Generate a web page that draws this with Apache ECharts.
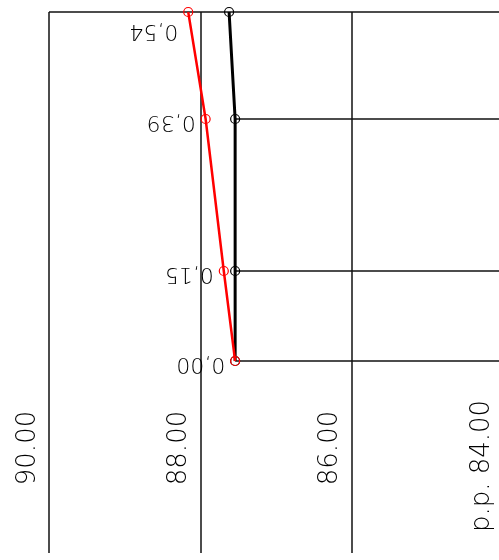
<!DOCTYPE html>
<html>
<head>
<meta charset="utf-8">
<script src="https://cdn.jsdelivr.net/npm/echarts@6/dist/echarts.min.js"></script>
<style>
  html, body { margin: 0; padding: 0; background: #fff; }
  #chart { width: 499px; height: 560px; }
</style>
</head>
<body>
<div id="chart"></div>
<script>
// profile data (rotated drawing): level on x, chainage on y
var rowPos = [0, 0.90, 2.42, 3.49];          // row positions along profile
var blackLevel = [87.54, 87.54, 87.54, 87.62]; // black line levels
var redLevel = [87.54, 87.69, 87.93, 88.16];   // red line levels
var diffLabels = ['0,00', '0,15', '0,39', '0,54'];
var tickLevels = [90, 88, 86, 84];
var tickLabels = ['90.00', '88.00', '86.00', 'p.p. 84.00'];
var labelRow = -0.87;  // where the level labels sit on the chainage scale

var FONT = '"DejaVu Sans", sans-serif';

function pairs(levels) {
    var out = [];
    for (var i = 0; i < levels.length; i++) out.push([levels[i], rowPos[i]]);
    return out;
}

var option = {
    animation: false,
    grid: { left: 49, width: 454, top: 12, bottom: 7, outerBoundsMode: 'none', containLabel: false },
    xAxis: {
        type: 'value',
        min: 84,
        max: 90,
        interval: 2,
        inverse: true,
        axisLine: { show: false },
        axisTick: { show: false },
        axisLabel: { show: false },
        splitLine: { show: true, lineStyle: { color: '#111', width: 1.5 } }
    },
    yAxis: {
        type: 'value',
        min: -1.92,
        max: 3.49,
        axisLine: { show: false },
        axisTick: { show: false },
        axisLabel: { show: false },
        splitLine: { show: false }
    },
    series: [
        {
            // row lines, from the black line to the right
            type: 'custom',
            clip: false,
            data: rowPos.map(function (p, i) { return [i]; }),
            renderItem: function (params, api) {
                var i = api.value(0);
                var start = (i === rowPos.length - 1) ? 90 : blackLevel[i];
                var a = api.coord([start, rowPos[i]]);
                var b = api.coord([84, rowPos[i]]);
                return {
                    type: 'line',
                    shape: { x1: a[0], y1: a[1], x2: b[0], y2: b[1] },
                    style: { stroke: '#111', lineWidth: 1.5 }
                };
            },
            z: 1
        },
        {
            name: 'black',
            type: 'line',
            data: pairs(blackLevel),
            symbol: 'circle',
            symbolSize: 9,
            lineStyle: { color: '#000', width: 3 },
            itemStyle: { color: 'rgba(0,0,0,0)', borderColor: '#000', borderWidth: 1.2 },
            z: 3
        },
        {
            name: 'red',
            type: 'line',
            data: pairs(redLevel),
            symbol: 'circle',
            symbolSize: 9,
            lineStyle: { color: '#ff0000', width: 2.5 },
            itemStyle: { color: 'rgba(0,0,0,0)', borderColor: '#ff0000', borderWidth: 1.2 },
            z: 4
        },
        {
            // upside-down difference labels beside the red points
            type: 'custom',
            clip: false,
            data: pairs(redLevel),
            renderItem: function (params, api) {
                var i = params.dataIndex;
                var pt = api.coord([api.value(0), api.value(1)]);
                var dy = (i === rowPos.length - 1) ? 19 : 3;
                return {
                    type: 'text',
                    x: pt[0] - 10,
                    y: pt[1] + dy,
                    rotation: Math.PI,
                    style: {
                        text: diffLabels[i],
                        x: 0, y: 0,
                        align: 'left',
                        verticalAlign: 'middle',
                        font: '200 22px ' + FONT,
                        fill: '#000'
                    }
                };
            },
            z: 5
        },
        {
            // level labels, rotated, left of each vertical line
            type: 'custom',
            clip: false,
            data: tickLevels.map(function (v) { return [v, labelRow]; }),
            renderItem: function (params, api) {
                var i = params.dataIndex;
                var pt = api.coord([api.value(0), api.value(1)]);
                var last = i === tickLevels.length - 1;
                return {
                    type: 'text',
                    x: pt[0] - 21,
                    y: pt[1] + (last ? 18 : 0),
                    rotation: Math.PI / 2,
                    style: {
                        text: tickLabels[i],
                        x: 0, y: 0,
                        align: 'center',
                        verticalAlign: 'middle',
                        font: '200 26px ' + FONT,
                        fill: '#000'
                    }
                };
            },
            z: 5
        }
    ]
};

var chart = echarts.init(document.getElementById('chart'));
chart.setOption(option);
</script>
</body>
</html>
